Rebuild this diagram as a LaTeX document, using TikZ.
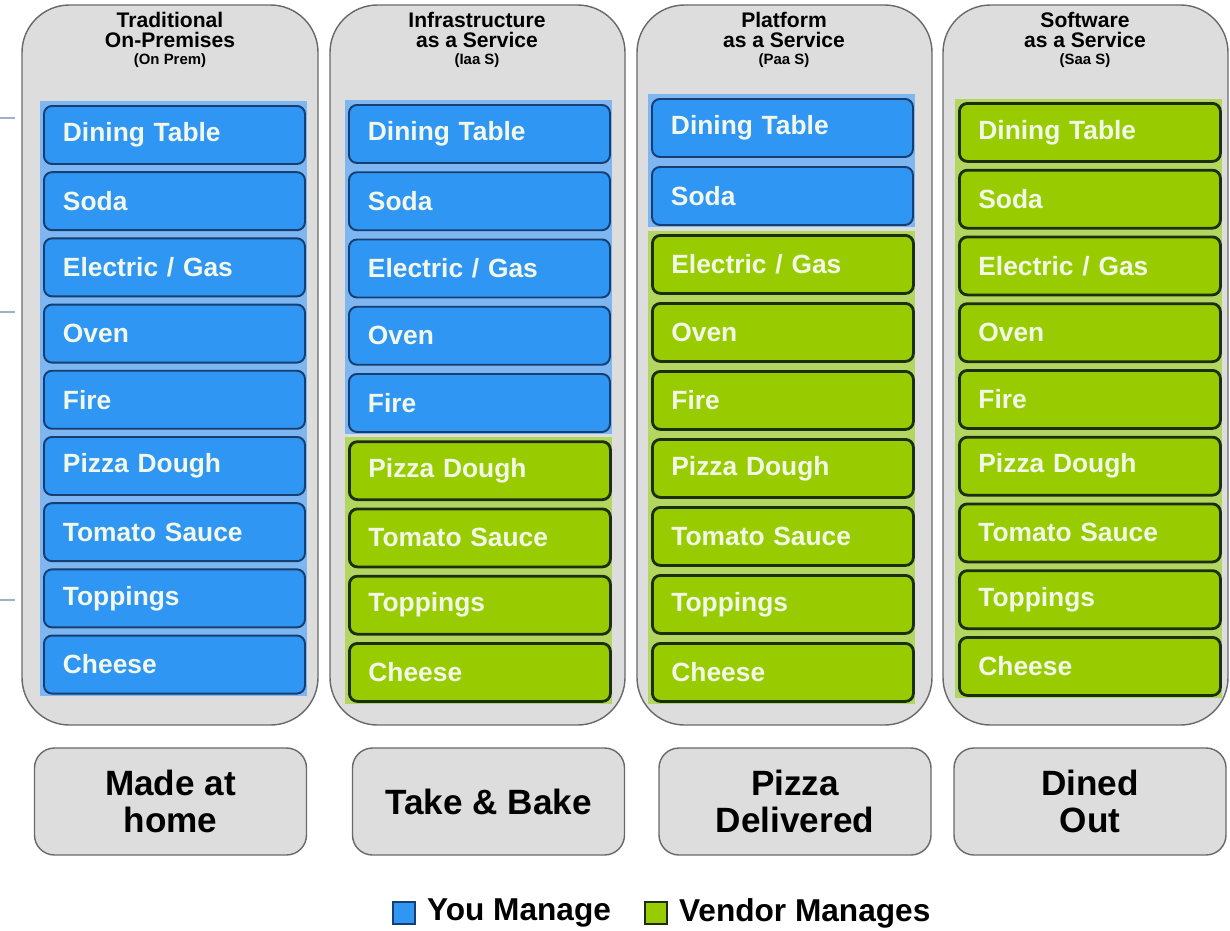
\documentclass[tikz,border=0pt]{standalone}
\usepackage{fontspec}
\setmainfont{Liberation Sans}
\usetikzlibrary{positioning}

\definecolor{panelgray}{RGB}{221,221,221}
\definecolor{paneledge}{RGB}{105,105,105}
\definecolor{youblue}{RGB}{48,150,243}
\definecolor{youedge}{RGB}{22,62,112}
\definecolor{youlight}{RGB}{125,182,240}
\definecolor{vendorgreen}{RGB}{153,204,0}
\definecolor{vendoredge}{RGB}{28,46,16}
\definecolor{vendorlight}{RGB}{178,214,96}
\definecolor{boxtext}{RGB}{242,248,232}
\definecolor{sideline}{RGB}{160,176,200}

\def\px{0.02cm}

\tikzset{
    panel/.style={draw=paneledge, fill=panelgray, line width=0.8pt, rounded corners=0.95cm},
    youband/.style={fill=youlight},
    vendorband/.style={fill=vendorlight},
    layer/.style={anchor=north west, rounded corners=0.16cm, minimum height=58*\px,
        text width=223*\px, inner xsep=19*\px, align=left, text=boxtext,
        font=\fontsize{15}{16}\selectfont\bfseries},
    youbox/.style={layer, draw=youedge, fill=youblue, line width=1.1pt},
    vendorbox/.style={layer, draw=vendoredge, fill=vendorgreen, line width=1.6pt},
    headtxt/.style={font=\fontsize{12}{13}\selectfont\bfseries, inner sep=0pt},
    subtxt/.style={font=\fontsize{8.5}{9}\selectfont\bfseries, inner sep=0pt},
    outcome/.style={draw=paneledge, fill=panelgray, line width=0.8pt, rounded corners=0.4cm,
        minimum width=272*\px, minimum height=107*\px, align=center,
        font=\fontsize{20}{21.5}\selectfont\bfseries},
    legsq/.style={minimum size=22*\px, inner sep=0pt, line width=0.8pt},
    legtxt/.style={font=\fontsize{18}{20}\selectfont\bfseries, inner sep=0pt}
}

\begin{document}
\begin{tikzpicture}[x=\px, y=-\px]
    \useasboundingbox (0,0) rectangle (1230,930);
    % stray rule ends on the left
    \foreach \y in {118,312,600}
        \draw[sideline, line width=0.9pt] (0,\y) -- (15,\y);
    % four service panels
    \foreach \xl/\xr in {22/318, 330/625, 637/932, 943/1228}
        \draw[panel] (\xl,5) rectangle (\xr,725);
    \foreach \cx/\la/\lb/\lc [count=\c] in {170/Traditional/On-Premises/(On Prem),
        477/Infrastructure/as a Service/(Iaa S), 784/Platform/as a Service/(Paa S),
        1085/Software/as a Service/(Saa S)}{
        \node[headtxt] (head\c a) at (\cx,20) {\la};
        \node[headtxt] (head\c b) at (\cx,40) {\lb};
        \node[subtxt] (head\c c) at (\cx,61) {\lc};
    }
    % stacks: left x / top y / row step / rows you manage
    \foreach \cx/\top/\step/\nb [count=\c] in {43/105/66.2/9, 348/104/67.25/5, 651/98/68/2, 958/102/66.75/0}{
        \ifnum\nb>0
            \fill[youband] (\cx-3,\top-4) rectangle (\cx+264,{\top+(\nb-1)*\step+61});
        \fi
        \ifnum\nb<9
            \fill[vendorband] (\cx-3,{\top+\nb*\step-3}) rectangle (\cx+264,{\top+8*\step+62});
        \fi
        \foreach \t [count=\i] in {Dining Table, Soda, Electric / Gas, Oven, Fire,
            Pizza Dough, Tomato Sauce, Toppings, Cheese}{
            \ifnum\i>\nb \def\st{vendorbox}\else\def\st{youbox}\fi
            \node[\st] (c\c r\i) at (\cx,{\top+(\i-1)*\step}) {\t};
        }
    }
    % what it is like
    \node[outcome] (made) at (170.5,801.5) {Made at\\home};
    \node[outcome] (takebake) at (488.5,801.5) {Take \& Bake};
    \node[outcome] (delivered) at (795,801.5) {Pizza\\Delivered};
    \node[outcome] (dined) at (1090,801.5) {Dined\\Out};
    % legend
    \node[legsq, draw=youedge, fill=youblue] (yousq) at (404,913) {};
    \node[legtxt, right=0.22cm of yousq] (youlbl) {You Manage};
    \node[legsq, draw=vendoredge, fill=vendorgreen] (vendorsq) at (656,913) {};
    \node[legtxt, right=0.22cm of vendorsq] (vendorlbl) {Vendor Manages};
\end{tikzpicture}
\end{document}
